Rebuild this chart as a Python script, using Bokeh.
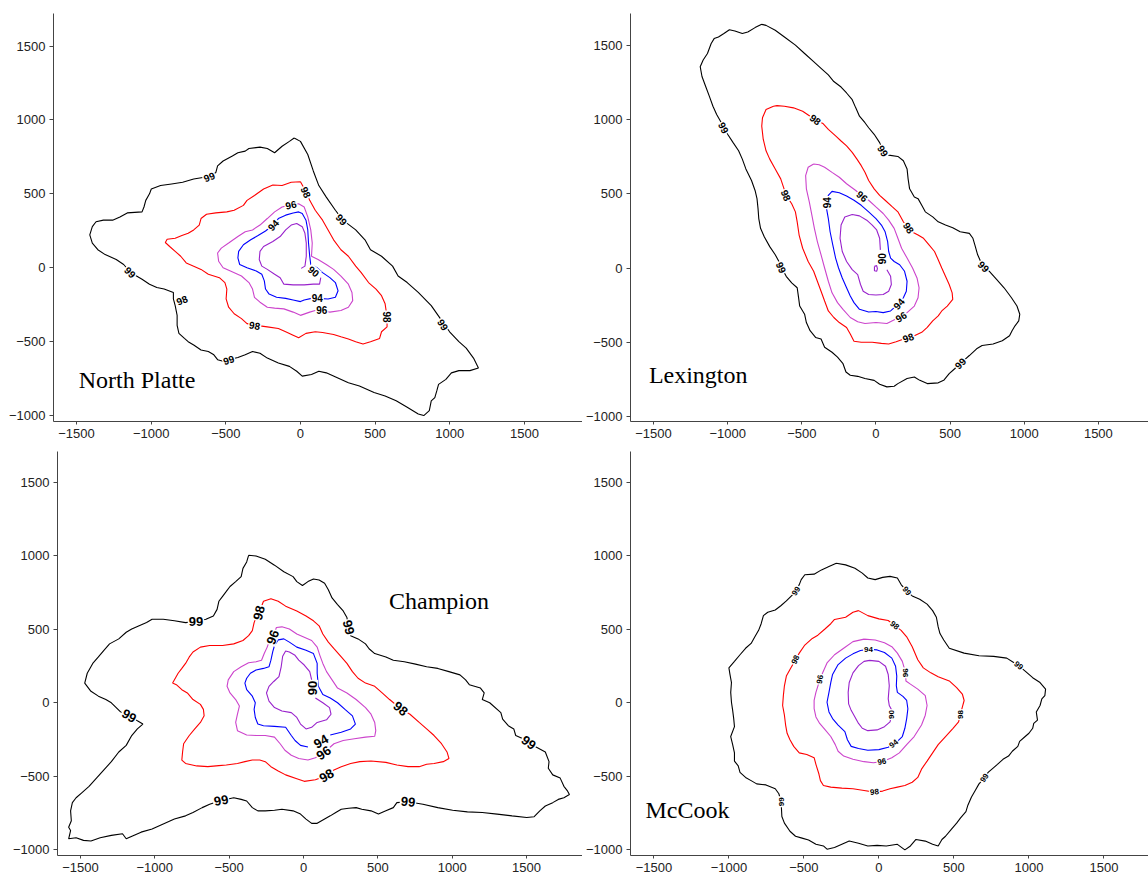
from bokeh.plotting import figure
from bokeh.layouts import column, row
from bokeh.models import Range1d, FixedTicker, ColumnDataSource
from bokeh.core.properties import value
from bokeh.embed import file_html
from bokeh.resources import INLINE

LEVEL_COLORS = {99: "black", 98: "#ff0000", 96: "#cc44cc", 94: "#0000ff", 90: "#9922cc"}
X_TICKS = [-1500, -1000, -500, 0, 500, 1000, 1500]
Y_TICKS = [-1000, -500, 0, 500, 1000, 1500]

# ---------------- North Platte ----------------
np99_x = [-42, 0, 49, 86, 123, 173, 234, 284, 370, 432, 469, 543, 617, 654, 715, 789, 876, 937, 999, 1061, 1110, 1159, 1192,
          1135, 1061, 1011, 974, 925, 913, 900, 876, 863, 826, 789, 715, 641, 567, 493, 395, 321, 247, 173, 123, 74, 12, -25,
          -74, -148, -222, -271, -321, -370, -419, -481, -518, -555, -580, -617, -666, -715, -752, -777, -814, -826, -826, -839,
          -851, -851, -913, -962, -1011, -1061, -1098, -1140, -1184, -1234, -1308, -1357, -1394, -1411, -1394, -1369, -1320,
          -1258, -1209, -1160, -1061, -1048, -1036, -1011, -999, -937, -863, -789, -715, -654, -612, -567, -555, -518, -456,
          -419, -370, -345, -271, -222, -173, -123, -74, -42]
np99_y = [878, 855, 766, 655, 556, 478, 389, 322, 256, 189, 122, 78, 11, -56, -100, -167, -256, -344, -433, -500, -544, -611, -678,
          -696, -696, -711, -755, -789, -833, -878, -900, -967, -1000, -989, -944, -900, -867, -844, -800, -778, -744, -711, -700,
          -722, -733, -700, -667, -644, -611, -578, -567, -589, -607, -622, -633, -622, -589, -567, -556, -522, -500, -478, -444,
          -389, -322, -256, -211, -167, -144, -133, -111, -78, -56, -29, 22, 56, 89, 122, 167, 222, 278, 311, 322, 322, 344, 371,
          378, 411, 456, 500, 533, 556, 567, 578, 600, 611, 616, 644, 689, 722, 756, 778, 789, 807, 816, 807, 778, 822, 855, 878]
np98_x = [0, 39, 62, 99, 148, 185, 222, 271, 321, 370, 407, 456, 506, 543, 567, 580, 580, 543, 530, 469, 419, 370, 321, 271, 222,
          148, 99, 37, -12, -49, -99, -148, -222, -271, -306, -358, -395, -444, -481, -498, -493, -506, -543, -617, -666, -715,
          -765, -802, -839, -876, -905, -893, -839, -794, -752, -715, -678, -666, -629, -567, -493, -444, -382, -358, -308, -247,
          -185, -123, -62, 0]
np98_y = [582, 511, 456, 389, 322, 256, 189, 122, 78, 11, -33, -100, -144, -189, -244, -333, -400, -433, -478, -500, -516, -500,
          -482, -467, -451, -438, -433, -444, -473, -456, -433, -411, -400, -393, -389, -378, -344, -311, -267, -211, -144, -100,
          -67, -44, -11, 11, 33, 78, 111, 144, 171, 193, 200, 218, 233, 256, 289, 333, 362, 371, 378, 389, 422, 456, 489, 533,
          560, 556, 578, 582]
np96_x = [-64, -12, 25, 49, 69, 79, 74, 118, 173, 222, 271, 321, 345, 350, 321, 271, 197, 143, 99, 62, 0, -49, -111, -173, -222,
          -271, -308, -321, -345, -395, -469, -518, -548, -555, -530, -481, -419, -370, -321, -271, -222, -173, -123, -64]
np96_y = [427, 433, 411, 344, 256, 167, 78, 56, 22, -11, -56, -111, -167, -222, -267, -289, -300, -289, -289, -300, -322, -300,
          -278, -273, -267, -233, -200, -144, -100, -56, -22, 0, 44, 100, 133, 167, 211, 244, 256, 289, 333, 378, 411, 427]
np94_x = [-183, -148, -99, -49, -12, 12, 37, 49, 54, 62, 69, 111, 148, 197, 234, 252, 234, 185, 113, 74, 25, 0, -49, -99, -160,
          -210, -234, -242, -259, -296, -358, -407, -419, -414, -382, -333, -284, -234, -183]
np94_y = [289, 333, 356, 371, 378, 367, 322, 256, 167, 78, 22, 0, -33, -67, -100, -156, -200, -211, -207, -207, -218, -229, -218,
          -207, -200, -178, -144, -89, -44, -22, 0, 22, 67, 111, 156, 189, 218, 249, 289]
np90_x = [5, 30, 39, 39, 30, 12, -25, -62, -99, -136, -185, -247, -271, -276, -259, -222, -173, -136, -111, -49, 25, 86, 128, 136]
np90_y = [-4, 11, 78, 167, 233, 278, 300, 289, 256, 211, 178, 144, 111, 56, 11, -11, -44, -67, -111, -116, -116, -111, -111, -67]
np_lab_x = [-612, 276, 955, -481, -1140, 39, 580, -306, -794, -64, 143, -183, 113, 89]
np_lab_y = [616, 327, -384, -622, -29, 511, -333, -389, -218, 427, -289, 289, -207, -24]
np_lab_t = ["99", "99", "99", "99", "99", "98", "98", "98", "98", "96", "96", "94", "94", "90"]
np_lab_a = [23, -47, -58, 17, -45, -66, -90, -10, 23, 12, 0, 47, 0, -40]

# ---------------- Lexington ----------------
lx99_x = [-770, -741, -679, -617, -543, -481, -420, -370, -321, -284, -235, -198, -160, -136, -111, -74, -49, -12, 25, 49, 86,
          148, 185, 210, 217, 227, 259, 284, 309, 333, 383, 420, 469, 518, 568, 630, 654, 667, 686, 716, 728, 765, 815, 864,
          914, 951, 970, 963, 938, 918, 901, 852, 790, 716, 679, 630, 593, 568, 531, 494, 457, 420, 346, 296, 259, 210, 148,
          123, 74, 25, -12, -74, -123, -173, -202, -222, -259, -296, -346, -370, -407, -444, -469, -481, -514, -523, -531,
          -568, -605, -637, -654, -679, -716, -753, -778, -790, -795, -802, -815, -839, -877, -901, -926, -963, -1000, -1025,
          -1049, -1074, -1099, -1123, -1148, -1173, -1185, -1165, -1136, -1111, -1091, -1062, -1025, -988, -951, -901, -864,
          -815, -770]
lx99_y = [1640, 1633, 1600, 1555, 1500, 1444, 1389, 1344, 1300, 1255, 1218, 1178, 1133, 1078, 1022, 978, 944, 900, 844, 789,
          760, 751, 722, 667, 600, 533, 478, 467, 422, 378, 344, 311, 289, 271, 244, 233, 200, 156, 89, 22, 11, -22, -78, -133,
          -200, -256, -311, -356, -389, -422, -456, -489, -511, -522, -544, -589, -622, -640, -678, -711, -756, -773, -778,
          -756, -733, -744, -778, -796, -800, -782, -756, -744, -729, -722, -700, -644, -600, -567, -533, -478, -467, -422,
          -367, -311, -256, -189, -133, -100, -56, 4, 44, 89, 144, 211, 267, 333, 400, 467, 522, 589, 667, 733, 789, 844, 900,
          944, 989, 1033, 1089, 1155, 1222, 1289, 1355, 1400, 1444, 1511, 1544, 1555, 1578, 1604, 1595, 1578, 1589, 1618, 1640]
lx98_x = [-691, -741, -765, -770, -760, -741, -716, -679, -642, -605, -568, -543, -531, -518, -494, -457, -420, -395, -370, -346,
          -321, -284, -247, -198, -173, -148, -99, -25, 37, 86, 136, 217, 259, 309, 346, 383, 420, 444, 481, 518, 514, 494, 469,
          444, 420, 395, 358, 321, 284, 242, 222, 185, 148, 111, 62, 25, -12, -49, -74, -99, -128, -160, -198, -235, -272, -321,
          -358, -407, -444, -494, -556, -617, -667, -691]
lx98_y = [1089, 1067, 1011, 955, 867, 789, 733, 667, 600, 489, 433, 378, 311, 222, 133, 44, -22, -89, -156, -222, -289, -333,
          -367, -400, -444, -493, -500, -500, -507, -511, -496, -467, -456, -433, -400, -356, -322, -289, -256, -211, -167, -111,
          -56, 0, 56, 111, 156, 200, 222, 244, 271, 311, 378, 411, 456, 489, 533, 589, 644, 689, 733, 778, 822, 855, 889, 933,
          973, 1000, 1022, 1055, 1078, 1089, 1093, 1089]
lx96_x = [-420, -457, -474, -469, -449, -432, -415, -395, -370, -346, -321, -296, -259, -222, -173, -123, -74, 0, 74, 168, 210,
          259, 284, 291, 277, 247, 210, 173, 148, 123, 86, 49, 0, -49, -91, -136, -198, -247, -296, -346, -383, -420]
lx96_y = [700, 678, 622, 533, 444, 356, 267, 178, 89, 0, -89, -167, -233, -278, -333, -362, -373, -367, -373, -327, -300, -256,
          -200, -133, -67, 0, 67, 133, 200, 267, 322, 367, 411, 456, 484, 522, 567, 611, 644, 678, 695, 700]
lx94_x = [-333, -333, -321, -309, -291, -272, -252, -227, -198, -173, -148, -111, -49, 0, 49, 99, 153, 185, 205, 210, 193, 160,
          123, 99, 86, 79, 62, 37, 0, -49, -99, -148, -198, -247, -296, -321, -333]
lx94_y = [440, 400, 333, 244, 156, 67, 0, -67, -133, -189, -233, -278, -296, -293, -300, -289, -240, -200, -156, -89, -22, 22,
          44, 67, 111, 178, 244, 289, 333, 378, 422, 456, 484, 507, 516, 489, 440]
lx90_x = [30, 25, 5, -25, -62, -111, -160, -210, -235, -242, -227, -198, -160, -123, -104, -86, -49, 0, 49, 86, 104, 99, 74]
lx90_y = [122, 200, 256, 289, 322, 351, 360, 344, 289, 200, 111, 44, -11, -44, -111, -156, -178, -182, -178, -156, -111, -56, -11]
lx90b_x = [-10, 5, 10, 5, -10, -10]
lx90b_y = [11, 16, -4, -22, -18, 11]
lx_lab_x = [49, 728, 568, -637, -1025, -605, 217, 222, -407, 168, -91, -333, 153, 44]
lx_lab_y = [789, 11, -640, 4, 944, 489, -467, 271, 1000, -327, 484, 440, -240, 62]
lx_lab_t = ["99", "99", "99", "99", "99", "98", "98", "98", "98", "96", "96", "94", "94", "90"]
lx_lab_a = [-57, -45, 45, -66, -63, -68, 20, -58, -38, 31, -40, 90, 49, 90]

# ---------------- Champion ----------------
ch99_x = [-369, -319, -257, -195, -132, -70, -45, -7, 30, 67, 105, 142, 167, 192, 229, 267, 292, 304, 317, 367, 417, 441, 479,
          554, 604, 678, 753, 828, 903, 978, 1052, 1090, 1115, 1190, 1215, 1202, 1252, 1327, 1339, 1377, 1414, 1427, 1476, 1514,
          1564, 1626, 1651, 1646, 1676, 1726, 1751, 1776, 1788, 1751, 1713, 1676, 1626, 1589, 1551, 1501, 1402, 1302, 1202, 1102,
          1003, 903, 803, 703, 628, 604, 554, 504, 454, 392, 354, 304, 254, 217, 180, 142, 92, 55, 17, -20, -70, -145, -195, -257,
          -307, -344, -382, -419, -469, -554, -631, -681, -743, -793, -868, -943, -1018, -1092, -1142, -1192, -1217, -1292,
          -1367, -1429, -1479, -1529, -1579, -1566, -1579, -1561, -1566, -1554, -1529, -1491, -1442, -1392, -1342, -1292, -1242,
          -1192, -1155, -1117, -1080, -1117, -1172, -1230, -1292, -1329, -1379, -1429, -1471, -1454, -1417, -1379, -1342, -1304,
          -1242, -1192, -1155, -1105, -1055, -1018, -943, -868, -793, -723, -656, -606, -581, -569, -544, -519, -494, -456, -419,
          -407, -382, -369]
ch99_y = [1004, 999, 977, 937, 892, 859, 825, 799, 825, 843, 836, 814, 770, 714, 669, 625, 580, 513, 457, 435, 401, 368, 335,
          312, 290, 279, 263, 245, 234, 212, 190, 156, 123, 100, 67, 22, 0, -67, -112, -156, -178, -223, -245, -272, -301, -335,
          -401, -446, -491, -513, -569, -602, -625, -647, -658, -680, -703, -736, -776, -781, -770, -758, -747, -743, -732, -714,
          -691, -674, -680, -714, -736, -758, -736, -725, -714, -718, -725, -747, -770, -792, -821, -821, -792, -758, -736, -725,
          -732, -736, -736, -714, -669, -658, -647, -665, -691, -714, -747, -770, -792, -825, -859, -881, -903, -926, -892, -903,
          -919, -941, -937, -919, -926, -870, -848, -803, -736, -680, -647, -613, -569, -513, -457, -401, -335, -290, -223, -178,
          -145, -123, -89, -62, 0, 22, 45, 78, 134, 201, 268, 312, 357, 401, 435, 480, 502, 524, 546, 569, 569, 558, 546, 553, 569,
          591, 636, 691, 725, 758, 792, 825, 859, 915, 959, 1004]
ch98_x = [-299, -269, -219, -170, -120, -45, 17, 67, 105, 130, 167, 205, 254, 292, 329, 367, 417, 479, 529, 579, 653, 716, 778,
          828, 878, 928, 965, 978, 940, 878, 828, 778, 703, 628, 554, 454, 379, 317, 254, 205, 155, 80, 5, -45, -120, -170, -219,
          -257, -294, -344, -394, -444, -519, -569, -643, -718, -793, -818, -813, -806, -768, -731, -693, -668, -673, -693, -743,
          -781, -818, -855, -880, -843, -818, -793, -768, -743, -693, -631, -544, -469, -407, -369, -344, -332, -319, -299]
ch98_y = [613, 691, 709, 691, 658, 625, 591, 558, 524, 468, 413, 368, 312, 268, 212, 167, 134, 112, 67, 22, -40, -78, -134, -178,
          -223, -279, -335, -379, -401, -413, -419, -435, -435, -424, -406, -397, -401, -413, -435, -457, -497, -524, -535, -517,
          -491, -464, -435, -401, -390, -390, -401, -413, -424, -428, -435, -430, -413, -390, -335, -279, -223, -178, -134, -89,
          -45, -11, 22, 67, 89, 123, 134, 201, 234, 268, 312, 346, 379, 390, 390, 401, 424, 457, 491, 546, 580, 613]
ch96_x = [-207, -182, -145, -95, -45, 5, 55, 92, 110, 130, 155, 192, 229, 292, 354, 417, 454, 479, 486, 479, 417, 342, 267, 205,
          135, 80, 30, -32, -82, -125, -157, -195, -257, -319, -382, -444, -456, -444, -431, -456, -494, -514, -506, -469, -419,
          -369, -319, -282, -264, -244, -232, -207]
ch96_y = [446, 513, 517, 502, 468, 446, 424, 379, 323, 268, 212, 156, 100, 67, 22, -33, -78, -134, -190, -228, -234, -245, -257,
          -279, -341, -375, -390, -379, -357, -323, -279, -234, -223, -223, -219, -190, -134, -78, -22, 22, 67, 112, 156, 212,
          245, 272, 279, 290, 335, 379, 413, 446]
ch94_x = [30, -20, -57, -82, -120, -195, -269, -307, -324, -332, -324, -344, -382, -394, -382, -357, -319, -269, -232, -219,
          -207, -195, -170, -132, -95, -45, 17, 67, 92, 92, 100, 130, 180, 229, 279, 329, 349, 317, 254, 180]
ch94_y = [-301, -290, -257, -223, -167, -161, -156, -145, -100, -45, 0, 45, 89, 134, 167, 201, 223, 234, 245, 290, 346, 390, 428,
          435, 413, 379, 357, 335, 268, 201, 112, 56, 33, 0, -45, -89, -145, -178, -201, -219]
ch90_x = [55, 42, 5, -32, -57, -95, -120, -140, -150, -165, -200, -232, -249, -232, -195, -145, -82, -45, -20, 17, 55, 92, 155,
          185, 175, 130, 80]
ch90_y = [156, 212, 257, 290, 323, 346, 352, 317, 245, 178, 145, 112, 67, 11, -33, -56, -67, -100, -145, -178, -167, -134, -116,
          -78, -33, 0, 33]
ch_lab_x = [304, 1514, 703, -554, -1172, -723, -299, 653, 155, -207, 135, 117, 62]
ch_lab_y = [513, -272, -674, -665, -89, 553, 613, -40, -497, 446, -341, -263, 100]
ch_lab_t = ["99", "99", "99", "99", "99", "99", "98", "98", "98", "96", "96", "94", "90"]
ch_lab_a = [-75, -36, -5, 10, -31, 0, 75, -39, 31, 70, 35, 30, 90]

# ---------------- McCook ----------------
mc99_x = [-284, -222, -160, -111, -74, -25, 25, 74, 123, 148, 185, 222, 272, 321, 358, 383, 395, 407, 432, 469, 568, 667, 765,
          852, 931, 975, 1025, 1074, 1111, 1106, 1086, 1074, 1049, 1057, 1032, 1025, 1000, 975, 938, 926, 889, 864, 827, 790,
          765, 728, 704, 667, 642, 617, 593, 580, 543, 518, 481, 444, 420, 395, 358, 309, 247, 210, 173, 123, 49, -12, -74, -136,
          -198, -247, -296, -346, -370, -420, -469, -518, -556, -593, -630, -647, -652, -667, -691, -753, -815, -852, -889, -926,
          -938, -963, -963, -975, -988, -963, -968, -975, -983, -988, -983, -993, -1000, -963, -926, -889, -852, -827, -802, -785,
          -770, -741, -691, -654, -617, -551, -531, -518, -494, -432, -383, -333, -284]
mc99_y = [949, 938, 915, 882, 849, 838, 853, 860, 849, 804, 760, 727, 704, 671, 627, 582, 516, 471, 427, 371, 338, 320, 316, 304,
          253, 216, 171, 138, 93, 49, 27, -18, -62, -118, -140, -173, -207, -229, -262, -296, -329, -362, -384, -418, -440, -473,
          -511, -551, -596, -640, -696, -740, -784, -818, -862, -907, -929, -973, -962, -940, -929, -973, -1000, -962, -973, -969,
          -973, -955, -940, -962, -984, -995, -973, -962, -933, -918, -907, -873, -818, -773, -673, -618, -584, -558, -551, -529,
          -507, -473, -429, -396, -340, -284, -229, -162, -107, -51, 4, 71, 138, 193, 238, 282, 327, 371, 404, 449, 493, 538,
          593, 616, 631, 660, 693, 760, 804, 838, 871, 875, 904, 927, 949]
mc98_x = [-136, -74, 0, 62, 104, 148, 185, 222, 259, 296, 346, 395, 469, 518, 556, 568, 556, 543, 531, 494, 444, 395, 358, 321,
          284, 259, 222, 173, 123, 74, 25, -30, -99, -173, -247, -321, -370, -390, -400, -420, -432, -481, -531, -568, -593, -612,
          -622, -630, -642, -637, -630, -617, -593, -556, -531, -494, -444, -407, -358, -321, -296, -222, -173, -136]
mc98_y = [627, 593, 571, 560, 527, 493, 449, 382, 293, 238, 204, 178, 149, 104, 60, 16, -29, -80, -129, -173, -229, -284, -340,
          -396, -451, -507, -540, -562, -573, -584, -600, -607, -596, -584, -580, -573, -562, -529, -484, -418, -373, -351, -340,
          -296, -251, -207, -151, -84, -18, 49, 116, 182, 227, 293, 338, 393, 438, 460, 504, 538, 567, 582, 616, 627]
mc96_x = [-99, -25, 37, 86, 123, 156, 178, 180, 210, 259, 309, 321, 309, 284, 235, 185, 136, 86, 20, -37, -99, -173, -235, -272,
          -291, -321, -358, -395, -420, -432, -432, -420, -393, -375, -346, -296, -235, -173, -99]
mc96_y = [433, 427, 409, 382, 338, 282, 204, 149, 127, 93, 49, -18, -84, -151, -229, -284, -340, -373, -400, -407, -400, -384,
          -362, -329, -284, -229, -184, -140, -96, -40, 16, 71, 160, 204, 271, 327, 371, 416, 433]
mc94_x = [-69, -12, 37, 86, 111, 119, 116, 123, 160, 185, 193, 185, 173, 156, 123, 99, 62, 0, -74, -136, -185, -210, -227, -272,
          -309, -333, -346, -333, -321, -309, -272, -222, -173, -123, -69]
mc94_y = [364, 360, 342, 304, 249, 182, 116, 71, 44, 16, -40, -107, -173, -229, -262, -278, -302, -318, -322, -311, -296, -251,
          -196, -151, -107, -62, 4, 71, 138, 193, 260, 304, 333, 356, 364]
mc90_x = [-62, 0, 44, 62, 69, 62, 69, 86, 86, 74, 37, -12, -74, -111, -136, -160, -185, -202, -205, -198, -173, -136, -99, -62]
mc90_y = [289, 282, 249, 193, 116, 27, -18, -51, -80, -129, -162, -184, -189, -173, -140, -96, -51, -7, 71, 138, 204, 253, 282, 289]
mc_lab_x = [185, 931, 704, -652, -551, 104, 543, -30, -556, 178, 20, -393, -69, 99, 86]
mc_lab_y = [760, 253, -511, -673, 760, 527, -80, -607, 293, 204, -400, 160, 364, -278, -80]
mc_lab_t = ["99", "99", "99", "99", "99", "98", "98", "98", "98", "96", "96", "96", "94", "94", "90"]
mc_lab_a = [-50, -40, 54, 90, 55, -40, 90, 5, 65, 90, 10, 80, 0, 40, 90]

TITLES = ["North Platte", "Lexington", "Champion", "McCook"]
TITLE_X = [-1485, -1531, 575, -1556]
TITLE_Y = [-760, -722, 692, -727]


def make_panel(idx, lines, lab, width, height, borders, xr, yr, lab_size):
    p = figure(width=width, height=height, output_backend="svg", toolbar_location=None,
               x_range=Range1d(*xr), y_range=Range1d(*yr),
               min_border_left=borders[0], min_border_right=borders[1],
               min_border_top=borders[2], min_border_bottom=borders[3])
    p.outline_line_color = None
    p.grid.visible = False
    p.background_fill_color = "white"
    p.border_fill_color = "white"
    for ax, ticks in ((p.xaxis[0], X_TICKS), (p.yaxis[0], Y_TICKS)):
        ax.ticker = FixedTicker(ticks=ticks)
        ax.minor_tick_line_color = None
        ax.major_tick_in = 0
        ax.axis_line_color = "#444444"
        ax.major_tick_line_color = "#444444"
        ax.major_label_text_font = "Liberation Sans"
        ax.major_label_text_font_size = "13px"
        ax.major_label_text_color = "#222222"
    p.xaxis[0].major_tick_out = 3
    p.xaxis[0].major_label_standoff = 4
    p.yaxis[0].major_tick_out = 4
    p.yaxis[0].major_label_standoff = 4
    for level, xs, ys in lines:
        p.line(xs, ys, line_color=LEVEL_COLORS[level], line_width=1.1)
    src = ColumnDataSource(dict(x=lab[0], y=lab[1], text=lab[2], angle=lab[3]))
    p.text(x="x", y="y", text="text", angle="angle", angle_units="deg", source=src,
           text_font=value("Liberation Sans"), text_font_style="bold",
           text_font_size=lab_size, text_color="black",
           text_align="center", text_baseline="middle",
           background_fill_color="white", padding=1)
    p.text(x=[TITLE_X[idx]], y=[TITLE_Y[idx]], text=[TITLES[idx]],
           text_font=value("Liberation Serif"), text_font_size="24px", text_color="black",
           text_align="left", text_baseline="alphabetic")
    return p


p1 = make_panel(0, [(99, np99_x, np99_y), (98, np98_x, np98_y), (96, np96_x, np96_y), (94, np94_x, np94_y), (90, np90_x, np90_y)],
                (np_lab_x, np_lab_y, np_lab_t, np_lab_a), 582, 445, (53, 0, 7, 24), (-1654, 1889), (-1040, 1720), "10px")
p2 = make_panel(1, [(99, lx99_x, lx99_y), (98, lx98_x, lx98_y), (96, lx96_x, lx96_y), (94, lx94_x, lx94_y), (90, lx90_x, lx90_y),
                    (90, lx90b_x, lx90b_y)],
                (lx_lab_x, lx_lab_y, lx_lab_t, lx_lab_a), 566, 445, (42, 0, 13, 20), (-1655, 1838), (-1033, 1713), "10px")
p3 = make_panel(2, [(99, ch99_x, ch99_y), (98, ch98_x, ch98_y), (96, ch96_x, ch96_y), (94, ch94_x, ch94_y), (90, ch90_x, ch90_y)],
                (ch_lab_x, ch_lab_y, ch_lab_t, ch_lab_a), 582, 442, (57, 0, 0, 32), (-1654, 1876), (-1040, 1711), "13px")
p4 = make_panel(3, [(99, mc99_x, mc99_y), (98, mc98_x, mc98_y), (96, mc96_x, mc96_y), (94, mc94_x, mc94_y), (90, mc90_x, mc90_y)],
                (mc_lab_x, mc_lab_y, mc_lab_t, mc_lab_a), 566, 442, (46, 0, 6, 24), (-1656, 1797), (-1038, 1709), "8px")

layout = column(row(p1, p2), row(p3, p4))
open("out.html", "w").write(file_html(layout, INLINE))
